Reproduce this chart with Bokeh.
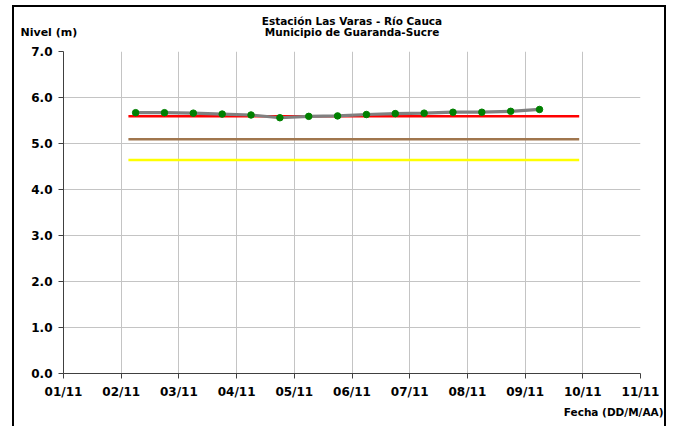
import pandas as pd
from bokeh.plotting import figure
from bokeh.models import Range1d, FixedTicker, Title, DatetimeTickFormatter, PrintfTickFormatter
from bokeh.embed import file_html
from bokeh.resources import INLINE

# ---- data ----
tick_dates = ["2010-11-01", "2010-11-02", "2010-11-03", "2010-11-04", "2010-11-05", "2010-11-06",
              "2010-11-07", "2010-11-08", "2010-11-09", "2010-11-10", "2010-11-11"]
y_ticks = [0, 1, 2, 3, 4, 5, 6, 7]

obs_times = ["2010-11-02 06:00", "2010-11-02 18:00", "2010-11-03 06:00", "2010-11-03 18:00",
             "2010-11-04 06:00", "2010-11-04 18:00", "2010-11-05 06:00", "2010-11-05 18:00",
             "2010-11-06 06:00", "2010-11-06 18:00", "2010-11-07 06:00", "2010-11-07 18:00",
             "2010-11-08 06:00", "2010-11-08 18:00", "2010-11-09 06:00"]
nivel = [5.67, 5.67, 5.66, 5.64, 5.62, 5.56, 5.59, 5.60, 5.63, 5.65, 5.66, 5.68, 5.68, 5.70, 5.74]

ref_times = ["2010-11-02 03:00", "2010-11-09 22:30"]
alerta_roja = [5.59, 5.59]
alerta_naranja = [5.09, 5.09]
alerta_amarilla = [4.64, 4.64]

title_lines = ["Estación Las Varas - Río Cauca", "Municipio de Guaranda-Sucre"]
y_title = "Nivel (m)"
x_title = "Fecha (DD/M/AA)"

# ---- figure ----
ticks_dt = pd.to_datetime(tick_dates)
tick_ms = [int(t.timestamp() * 1000) for t in ticks_dt]
t_obs = pd.to_datetime(obs_times)
t_ref = pd.to_datetime(ref_times)

FONT = "DejaVu Sans"

p = figure(width=654, height=421, output_backend="svg", toolbar_location=None,
           x_axis_type="datetime",
           x_range=Range1d(ticks_dt[0], ticks_dt[-1]), y_range=Range1d(0, 7),
           min_border_left=49, min_border_right=28, min_border_top=44, min_border_bottom=55)
p.title_location = None
p.styles = {"border-top": "2px solid black", "border-left": "2px solid black",
            "border-right": "2px solid black", "margin-top": "5px", "margin-left": "12px"}
p.outline_line_color = None
p.background_fill_color = "white"
p.border_fill_color = "white"

xt = FixedTicker(ticks=tick_ms)
yt = FixedTicker(ticks=y_ticks)
p.xaxis.ticker = xt
p.yaxis.ticker = yt
p.xgrid.ticker = xt
p.ygrid.ticker = yt
p.xaxis.formatter = DatetimeTickFormatter(days="%d/%m", months="%d/%m", hours="%d/%m")
p.yaxis.formatter = PrintfTickFormatter(format="%.1f")

for ax in (p.xaxis[0], p.yaxis[0]):
    ax.major_label_text_font = FONT
    ax.major_label_text_font_style = "bold"
    ax.major_label_text_font_size = "12px"
    ax.major_label_text_color = "black"
    ax.axis_line_color = "#404040"
    ax.major_tick_line_color = "#404040"
    ax.major_tick_out = 5
    ax.major_tick_in = 0
    ax.minor_tick_line_color = None
    ax.major_label_standoff = 6

for g in (p.xgrid[0], p.ygrid[0]):
    g.grid_line_color = "#C4C4C4"
    g.grid_line_width = 1

# threshold lines
p.line(t_ref, alerta_amarilla, line_color="#FFFF00", line_width=2.5)
p.line(t_ref, alerta_naranja, line_color="#A0764E", line_width=2.5)
p.line(t_ref, alerta_roja, line_color="#FF0000", line_width=2.5)

# series
p.line(t_obs, nivel, line_color="#808080", line_width=3.2)
p.scatter(t_obs, nivel, size=6.5, fill_color="#008000", line_color="#008000")

# texts in side panels (stacked outward from the frame)
def ttl(text, side, align, offset, size, standoff):
    p.add_layout(Title(text=text, align=align, offset=offset, standoff=standoff,
                       text_font=FONT, text_font_style="bold", text_font_size=size,
                       text_color="black"), side)

ttl(" ", "above", "left", 0, "10.5px", 6)                 # spacer row
ttl(y_title, "above", "left", -43, "11px", -14)
ttl(title_lines[1], "above", "center", -4, "10.5px", -14)
ttl(title_lines[0], "above", "center", -4, "10.5px", 8)
ttl(x_title, "below", "right", -23, "10.5px", 4)

open("out.html", "w").write(file_html(p, INLINE))
